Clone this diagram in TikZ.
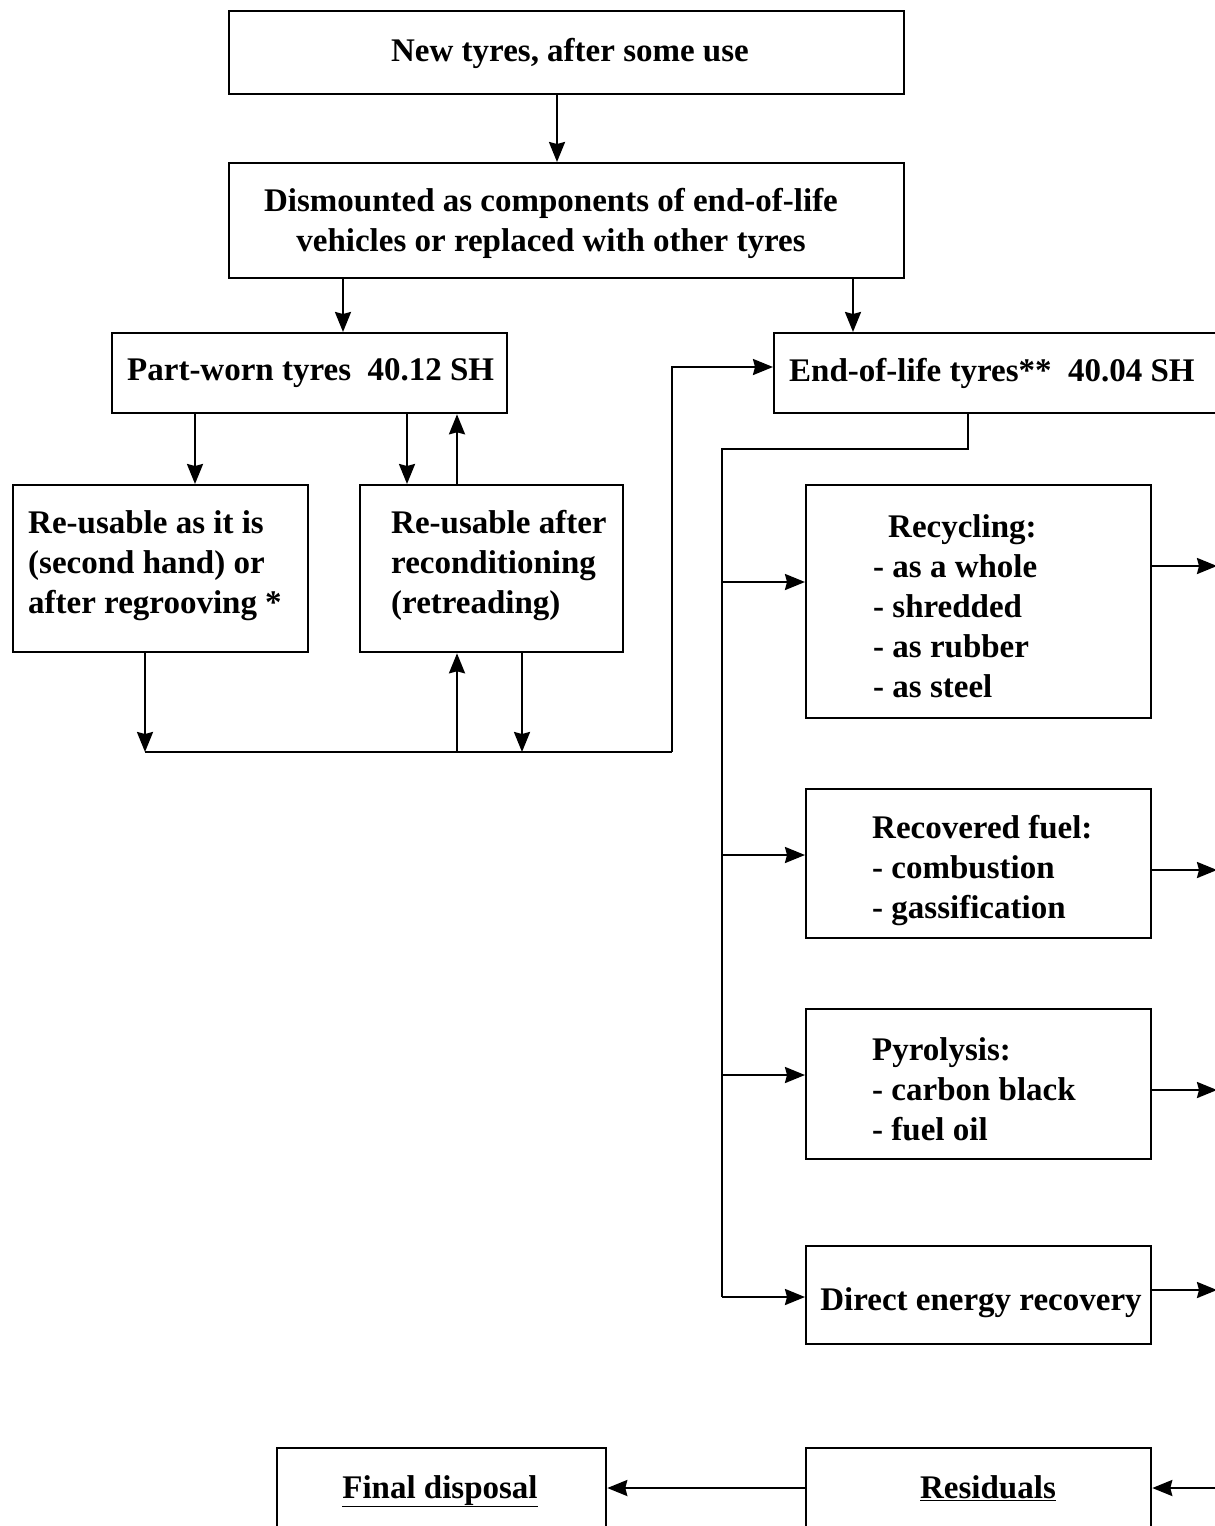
\documentclass[tikz,border=0pt]{standalone}
\usepackage{fontspec}
\setmainfont{Liberation Serif}
\usetikzlibrary{arrows.meta}
\begin{document}
\begin{tikzpicture}[x=1pt,y=-1pt,
  box/.style={draw, line width=2.3pt, rectangle, anchor=north west, inner sep=0pt},
  txt/.style={inner sep=0pt, font=\fontsize{33}{40}\selectfont\bfseries},
  ln/.style={line width=2.3pt},
  arr/.style={line width=2.3pt, -{Stealth[length=20pt,width=16pt,inset=2pt]}}]
\useasboundingbox (0,0) rectangle (1215,1526);
% boxes
\node[box, minimum width=675pt, minimum height=83pt]  (b1)  at (228,10) {};
\node[box, minimum width=675pt, minimum height=115pt] (b2)  at (228,162) {};
\node[box, minimum width=395pt, minimum height=80pt]  (pw)  at (111,332) {};
\node[box, minimum width=470pt, minimum height=80pt]  (eol) at (773,332) {};
\node[box, minimum width=295pt, minimum height=167pt] (ru)  at (12,484) {};
\node[box, minimum width=263pt, minimum height=167pt] (rc)  at (359,484) {};
\node[box, minimum width=345pt, minimum height=233pt] (rec) at (805,484) {};
\node[box, minimum width=345pt, minimum height=149pt] (fuel) at (805,788) {};
\node[box, minimum width=345pt, minimum height=150pt] (pyr) at (805,1008) {};
\node[box, minimum width=345pt, minimum height=98pt]  (der) at (805,1245) {};
\node[box, minimum width=345pt, minimum height=130pt] (res) at (805,1447) {};
\node[box, minimum width=329pt, minimum height=130pt] (fin) at (276,1447) {};
% texts
\node[txt] (b1t) at (570,53) {New tyres, after some use};
\node[txt, align=center] (b2t) at (551,223) {Dismounted as components of end-of-life\\vehicles or replaced with other tyres};
\node[txt, anchor=west] (pwt) at (127,373) {Part-worn tyres\ \ 40.12 SH};
\node[txt, anchor=west] (eolt) at (789,373) {End-of-life tyres**\ \ 40.04 SH};
\node[txt, anchor=west, align=left] (rut) at (28,566) {Re-usable as it is\\(second hand) or\\after regrooving *};
\node[txt, anchor=west, align=left] (rct) at (391,566) {Re-usable after\\reconditioning\\(retreading)};
\node[txt, anchor=west, align=left] (rect) at (873,606) {\hspace*{15pt}Recycling:\\- as a whole\\- shredded\\- as rubber\\- as steel};
\node[txt, anchor=west, align=left] (fuelt) at (872,871) {Recovered fuel:\\- combustion\\- gassification};
\node[txt, anchor=west, align=left] (pyrt) at (872,1089) {Pyrolysis:\\- carbon black\\- fuel oil};
\node[txt] (dert) at (981,1303) {Direct energy recovery};
\node[txt, anchor=base] (fint) at (440,1498) {\underline{Final disposal}};
\node[txt, anchor=base] (rest) at (988,1498) {\underline{Residuals}};
% connectors
\draw[arr] (557,0 |- b1.south) -- (557,0 |- b2.north);
\draw[arr] (343,0 |- b2.south) -- (343,0 |- pw.north);
\draw[arr] (853,0 |- b2.south) -- (853,0 |- eol.north);
\draw[arr] (195,0 |- pw.south) -- (195,0 |- ru.north);
\draw[arr] (407,0 |- pw.south) -- (407,0 |- rc.north);
\draw[arr] (457,0 |- rc.north) -- (457,0 |- pw.south);
\coordinate (busL) at (145,752);
\coordinate (busR) at (672,752);
\draw[arr] (busL |- ru.south) -- (busL);
\draw[ln] (busL) -- (busR);
\draw[arr] (457,0 |- busL) -- (457,0 |- rc.south);
\draw[arr] (522,0 |- rc.south) -- (522,0 |- busL);
\coordinate (up) at (672,367);
\draw[arr] (busR) -- (up) -- (eol.west |- up);
\coordinate (dn) at (968,449);
\coordinate (sp) at (722,449);
\coordinate (j1) at (722,582);
\coordinate (j2) at (722,855);
\coordinate (j3) at (722,1075);
\coordinate (j4) at (722,1297);
\draw[ln] (dn |- eol.south) -- (dn) -- (sp) -- (j4);
\draw[arr] (j1) -- (j1 -| rec.west);
\draw[arr] (j2) -- (j2 -| fuel.west);
\draw[arr] (j3) -- (j3 -| pyr.west);
\draw[arr] (j4) -- (j4 -| der.west);
\coordinate (o1) at (1217,566);
\coordinate (o2) at (1217,870);
\coordinate (o3) at (1217,1090);
\coordinate (o4) at (1217,1290);
\coordinate (o5) at (1217,1488);
\draw[arr] (o1 -| rec.east) -- (o1);
\draw[arr] (o2 -| fuel.east) -- (o2);
\draw[arr] (o3 -| pyr.east) -- (o3);
\draw[arr] (o4 -| der.east) -- (o4);
\draw[arr] (o5) -- (o5 -| res.east);
\draw[arr] (o5 -| res.west) -- (o5 -| fin.east);
\end{tikzpicture}
\end{document}
